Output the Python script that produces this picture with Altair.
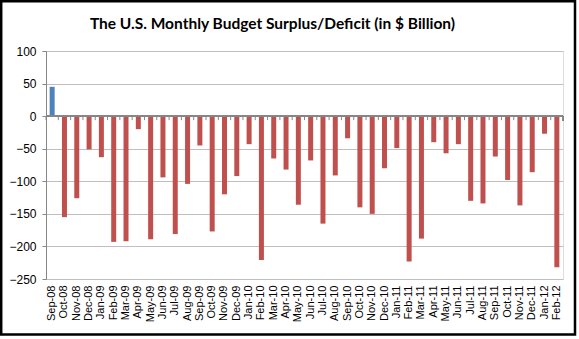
import altair as alt
import pandas as pd

months = ["Sep-08", "Oct-08", "Nov-08", "Dec-08", "Jan-09", "Feb-09", "Mar-09", "Apr-09",
          "May-09", "Jun-09", "Jul-09", "Aug-09", "Sep-09", "Oct-09", "Nov-09", "Dec-09",
          "Jan-10", "Feb-10", "Mar-10", "Apr-10", "May-10", "Jun-10", "Jul-10", "Aug-10",
          "Sep-10", "Oct-10", "Nov-10", "Dec-10", "Jan-11", "Feb-11", "Mar-11", "Apr-11",
          "May-11", "Jun-11", "Jul-11", "Aug-11", "Sep-11", "Oct-11", "Nov-11", "Dec-11",
          "Jan-12", "Feb-12"]
values = [45, -155, -126, -51, -63, -193, -192, -20,
          -189, -94, -181, -104, -45, -177, -120, -92,
          -43, -221, -65, -82, -136, -68, -165, -91,
          -34, -140, -150, -80, -49, -223, -188, -40,
          -57, -43, -130, -134, -62, -98, -137, -86,
          -27, -232]
y_ticks = [100, 50, 0, -50, -100, -150, -200, -250]

df = pd.DataFrame({"Month": months, "Value": values})

W, H = 517, 228
FONT = "Liberation Sans"
GRID = "#BFBFBF"
AXIS = "#868686"
zero_px = (100.0 / 350.0) * H

xscale = alt.Scale(paddingInner=0.0, paddingOuter=0.0)
yscale = alt.Scale(domain=[-250, 100], nice=False, zero=False)
yaxis = alt.Axis(title=None, values=y_ticks, labelFont=FONT, labelFontSize=12,
                 labelColor="#000000", gridColor=GRID, gridWidth=1, grid=True,
                 domainColor=AXIS, tickColor=AXIS, tickSize=4, labelOverlap=False,
                 labelPadding=6)

base = alt.Chart(df)

bars = base.mark_bar(size=5).encode(
    x=alt.X("Month:N", sort=months, scale=xscale,
            axis=alt.Axis(title=None, labelAngle=270, labelFont=FONT, labelFontSize=11,
                          labelColor="#000000", ticks=False, domain=False,
                          labelOverlap=False,
                          labelPadding=6, labelAlign="right", labelBaseline="middle")),
    y=alt.Y("Value:Q", scale=yscale, axis=yaxis),
    color=alt.condition(alt.datum.Value > 0, alt.value("#4F81BD"), alt.value("#C0504D")),
)

zero_line = base.mark_rule(color=AXIS, strokeWidth=1).encode(
    y=alt.Y(datum=0, scale=yscale, axis=yaxis), x=alt.value(0), x2=alt.value(W)
)

zero_ticks = base.mark_rule(color=AXIS, strokeWidth=1).encode(
    x=alt.X("Month:N", sort=months, scale=xscale, bandPosition=0),
    y=alt.value(zero_px), y2=alt.value(zero_px + 4),
)

end_tick = base.mark_rule(color=AXIS, strokeWidth=1).encode(
    x=alt.value(W), y=alt.value(zero_px), y2=alt.value(zero_px + 4),
)

frame = alt.Chart(pd.DataFrame({"a": [0]})).mark_rect(
    fill=None, stroke="#000000", strokeWidth=2.5
).encode(
    x=alt.value(-44.8), x2=alt.value(529), y=alt.value(-49.8), y2=alt.value(283.5)
)

chart = alt.layer(bars, zero_line, zero_ticks, end_tick, frame).properties(
    width=W, height=H,
    autosize=alt.AutoSizeParams(type="none"),
    padding={"left": 46, "top": 51, "right": 16, "bottom": 60},
    title=alt.TitleParams(
        "The U.S. Monthly Budget Surplus/Deficit (in $ Billion)",
        font="Lato", fontSize=15.5, fontWeight="bold", color="#000000",
        anchor="middle", frame="group", baseline="alphabetic", offset=0, dy=45, dx=-32,
    ),
).configure_view(stroke=None).configure(background="#FFFFFF")

chart.save("out.html", embed_options={"renderer": "svg", "actions": False})
